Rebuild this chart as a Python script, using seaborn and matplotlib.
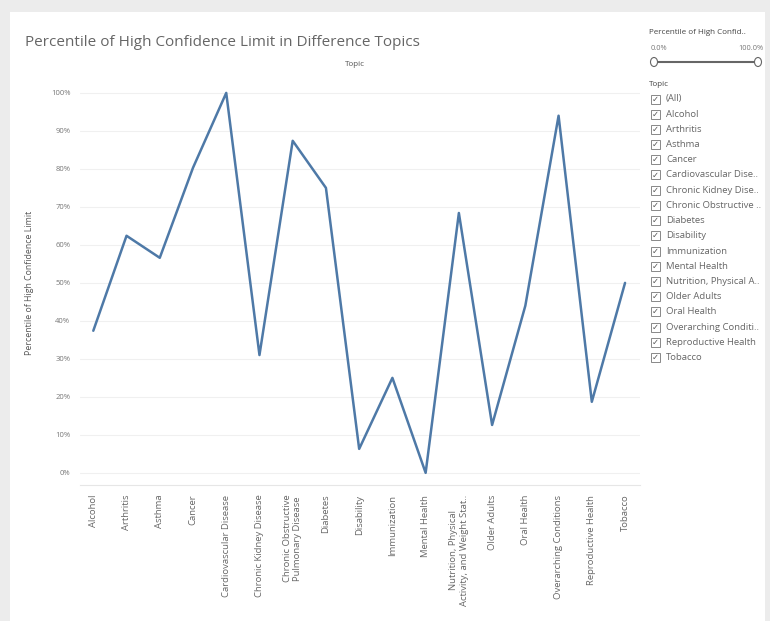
import matplotlib
matplotlib.use("Agg")
import matplotlib.pyplot as plt
import matplotlib.patches as mpatches
import seaborn as sns
import pandas as pd

# data
topics = ["Alcohol", "Arthritis", "Asthma", "Cancer", "Cardiovascular Disease",
          "Chronic Kidney Disease", "Chronic Obstructive\nPulmonary Disease", "Diabetes",
          "Disability", "Immunization", "Mental Health",
          "Nutrition, Physical\nActivity, and Weight Stat..", "Older Adults", "Oral Health",
          "Overarching Conditions", "Reproductive Health", "Tobacco"]
percentile = [37.4, 62.4, 56.6, 80.3, 100.0, 31.0, 87.4, 75.0, 6.3, 25.0, 0.0,
              68.4, 12.6, 44.0, 94.0, 18.7, 50.0]
yticks = [0, 10, 20, 30, 40, 50, 60, 70, 80, 90, 100]
filter_items = ["(All)", "Alcohol", "Arthritis", "Asthma", "Cancer", "Cardiovascular Dise..",
                "Chronic Kidney Dise..", "Chronic Obstructive ..", "Diabetes", "Disability",
                "Immunization", "Mental Health", "Nutrition, Physical A..", "Older Adults",
                "Oral Health", "Overarching Conditi..", "Reproductive Health", "Tobacco"]

df = pd.DataFrame({"pos": range(len(topics)), "pct": percentile})

sns.set_style("white")
plt.rcParams['font.family'] = ['Open Sans', 'DejaVu Sans']

W, H = 770, 621
fig = plt.figure(figsize=(W / 100, H / 100), dpi=100)
fig.patch.set_facecolor("#ececec")
# white dashboard panel
fig.patches.append(mpatches.Rectangle((10 / W, 0), 755 / W, 1 - 12 / H, transform=fig.transFigure,
                                      facecolor="white", edgecolor="none", zorder=-10))

ax = fig.add_axes([80 / W, 1 - 485 / H, 560 / W, 405 / H])
ax.set_facecolor("none")
sns.lineplot(data=df, x="pos", y="pct", ax=ax, color="#4e79a7", linewidth=1.8)

ax.set_xlim(-0.4, 16.45)
ax.set_ylim(-3.2, 103.4)
ax.set_yticks(yticks)
ax.set_yticklabels([f"{v}%" for v in yticks], fontsize=5.5, color="#777777")
ax.set_xticks(range(len(topics)))
ax.set_xticklabels(topics, rotation=90, fontsize=6.8, color="#666666", va="top",
                   ha="center", multialignment="center")
ax.tick_params(axis="both", length=0, pad=7)
for v in yticks:
    ax.axhline(v, color="#f0f0f0", linewidth=0.8, zorder=0)
for s in ["top", "right", "left"]:
    ax.spines[s].set_visible(False)
ax.spines["bottom"].set_color("#e6e6e6")
ax.set_xlabel("")
ax.set_ylabel("Percentile of High Confidence Limit", fontsize=6.3, color="#555555", labelpad=12)

fig.text(25 / W, 1 - 42 / H, "Percentile of High Confidence Limit in Difference Topics",
         fontsize=11, color="#666666", va="center")
fig.text(355 / W, 1 - 65 / H, "Topic", fontsize=5.8, color="#555555", ha="center", va="center")

# right side filter panel
fig.text(649 / W, 1 - 33 / H, "Percentile of High Confid..", fontsize=5.8, color="#444444", va="center")
fig.text(651 / W, 1 - 48 / H, "0.0%", fontsize=5.3, color="#777777", va="center")
fig.text(763 / W, 1 - 48 / H, "100.0%", fontsize=5.3, color="#777777", va="center", ha="right")
fig.lines.append(plt.Line2D([654 / W, 758 / W], [1 - 62 / H, 1 - 62 / H], transform=fig.transFigure,
                            color="#666666", linewidth=1.5, zorder=2))
for xx in [654, 758]:
    fig.patches.append(mpatches.Ellipse((xx / W, 1 - 62 / H), 7 / W, 9 / H, transform=fig.transFigure,
                                        facecolor="white", edgecolor="#666666", linewidth=0.8,
                                        zorder=3))
fig.text(649 / W, 1 - 85 / H, "Topic", fontsize=5.8, color="#444444", va="center")
for i, item in enumerate(filter_items):
    yy = 99 + i * 15.2
    fig.patches.append(mpatches.Rectangle((651 / W, 1 - (yy + 4.5) / H), 9 / W, 9 / H,
                                          transform=fig.transFigure, facecolor="white",
                                          edgecolor="#888888", linewidth=0.7, zorder=2))
    fig.text(655.5 / W, 1 - yy / H, "\u2713", fontsize=6, color="#555555", ha="center",
             va="center", family="DejaVu Sans", zorder=3)
    fig.text(666 / W, 1 - yy / H, item, fontsize=6.8, color="#666666", va="center")

fig.savefig("out.png", dpi=100, facecolor=fig.get_facecolor())
